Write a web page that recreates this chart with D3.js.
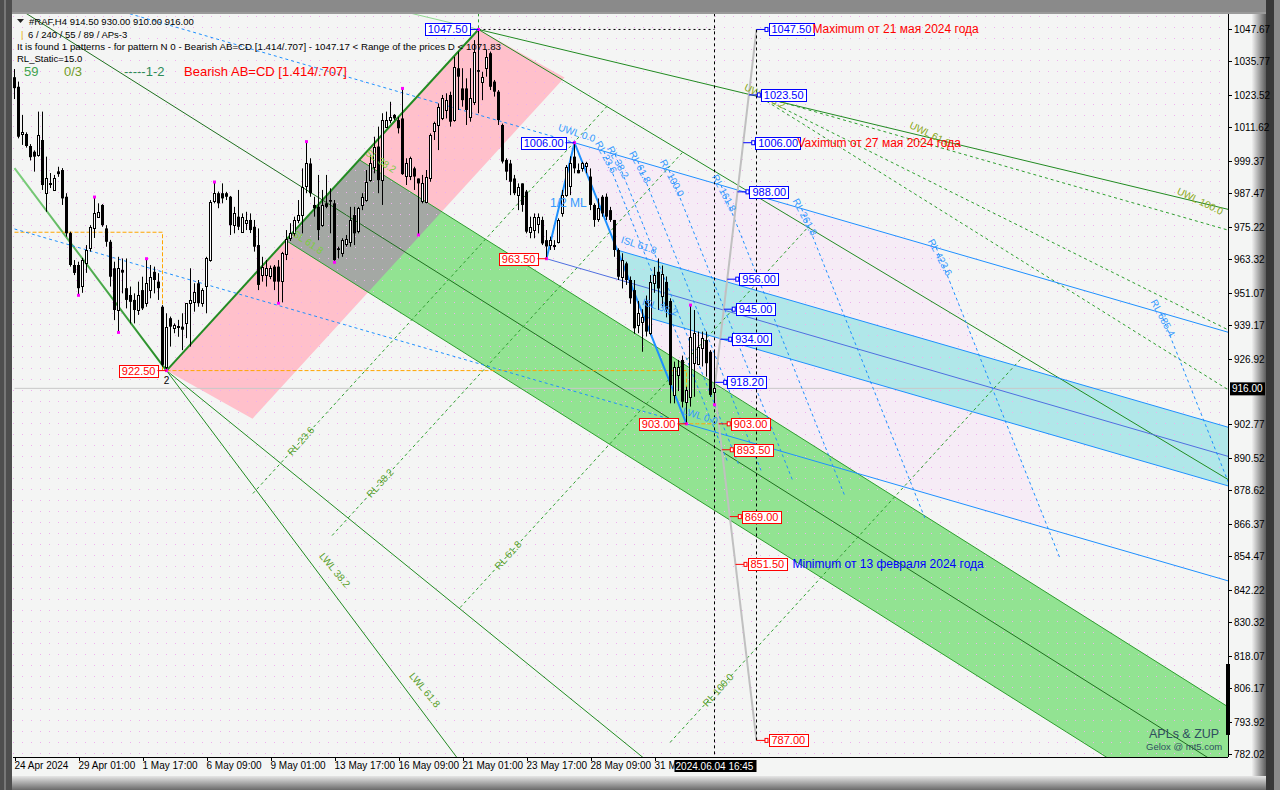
<!DOCTYPE html>
<html><head><meta charset="utf-8">
<script src="https://cdn.jsdelivr.net/npm/d3@7"></script>
<style>body{margin:0;background:#fff}svg{display:block}text{font-family:"Liberation Sans",Arial,sans-serif}</style>
</head><body><svg id="c" width="1280" height="790"></svg>
<script>
// ---------- DATA ----------
// H4 candles [open, high, low, close], bar index 0..175
const candles = [
[1030,1033,1022,1026],[1026.5,1028.4,1007.6,1008.2],[1009.2,1016.2,1005.2,1009.8],[1009.2,1009.8,1004.2,1004.8],
[1004.8,1005.5,999.5,1000.7],[1002.7,1003.2,995.4,1000.9],[1001.5,1017.4,1000.9,1008.8],[1007,1017.4,988.7,990.5],
[987.5,1000.9,980.7,993],[991.1,994.9,989.4,991.3],[988.7,994.2,988.5,993],[995.5,997.2,993.5,994.5],
[996,996.7,983.2,985.6],[986.2,987.5,971.6,972.8],[972.9,973.4,960.6,961.2],[961.2,963,957.5,958.3],
[961.2,962.4,950.1,952.7],[953.3,963.8,951,963],[962,968.5,958.3,966.7],[967.4,975.8,966.1,975.2],
[974.7,986.1,971.1,980.1],[978.9,983.8,978.4,980.7],[983.2,983.5,975.2,975.8],[974.6,975.8,967.9,969.7],
[969.7,970.4,953.3,956.9],[960,962.4,941,944.7],[944.7,964.2,936.5,960],[959.4,963.6,950.8,958.4],
[952.7,963.6,945.3,948.4],[950.2,953.3,939.8,947.7],[948.4,950.8,939.8,944.7],[944.7,955.1,942.9,950.2],
[952,956.9,944.7,945.3],[947.2,963.5,945.9,954.5],[952,961.2,949,956.9],[958.7,960.6,950.8,955.7],
[955.1,958.2,948.4,952.7],[945.9,946.5,923.9,924.6],[923.9,943.5,922.5,938.6],[941.7,942.3,931.3,938.6],
[938,939.8,936.2,939.2],[938.6,941.1,934.9,938.7],[938.6,943.5,930,937.5],[939.8,947.2,934.4,947.2],
[947.2,960,931.3,948.4],[947.7,954.5,944.1,951.4],[954.5,955.7,945.9,947.2],[947.2,952.7,945.9,952],
[953.3,964.2,943.5,963.6],[963,985,962.4,984.4],[984.4,991.6,983.8,987.5],[987.5,988.1,982,983.8],
[987.5,991.1,983.8,985.6],[987.5,988,985,986.2],[986.2,986.5,972.2,975.8],[975.8,982.5,972.8,980.1],
[978.9,988.7,974,975.2],[973.4,980.1,973,978.9],[976.5,980.7,974,977.7],[977.7,980.1,972.9,974],
[975.2,977.7,966.1,967.9],[968.5,974.6,952,953.9],[957.5,964.2,955.1,960.6],[957.5,963,953.3,960],
[957,961,956,960],[960.6,961.2,952,955.1],[960.6,963,947.2,955.1],[955.1,966,947.5,965.5],
[965.5,974,963,970.9],[970.9,976.5,970,972.8],[972.8,978.9,971.6,977.7],[977.7,985,976.5,979.5],
[979.5,996.6,972.8,989.9],[989.9,1006.4,987.5,998.4],[998.4,1000.3,986.2,987.5],[983.2,986.2,978.9,982],
[982.5,994.2,970.3,974],[975.8,988.7,975.2,983.2],[983.8,994.2,982,982.5],[985,989.3,972.8,984.4],
[983.8,985,962.2,963],[967.3,967.9,963.6,966.7],[965.5,971,964.2,970.3],[969.1,972.2,967.9,970.9],
[969.7,982.5,967.9,977.7],[979.5,982.5,968.5,972.8],[973.4,982.5,972.8,982],[983.2,987.5,981.3,986.2],
[985,996,984.4,991.7],[992.3,1001.5,991.7,998.4],[997.2,1008.2,994.8,1004.6],[1004.6,1011.9,987.5,992.3],
[992.3,1016.8,983.2,1014.3],[1011.9,1017.4,1011.9,1014.3],[1014.3,1021,1013.1,1015.5],[1016.2,1016.5,1014.3,1014.9],
[1014.3,1015.5,1009.4,1011.3],[1014.9,1025.9,994.2,994.5],[993.6,1000.3,990.5,998.4],[993.6,1000.9,992.3,1000.3],
[996.6,997.2,988.7,993.6],[992.9,992.9,972.2,991.1],[984.4,994.2,983.8,991.1],[984.4,996,983.8,993.6],
[992.9,1009.4,991.7,1008.8],[1010,1013.7,1007,1013.1],[1012.5,1020.4,1003.3,1019.2],[1015,1023.5,1014.3,1022.3],
[1018,1024.1,1014.9,1021.6],[1023.5,1024.7,1011.9,1013.7],[1014.3,1037.5,1013.7,1033.9],[1033.3,1039.4,1018,1030.2],
[1025.9,1033.3,1019.2,1021.6],[1025.9,1029.6,1012.5,1018],[1015.5,1033.3,1013.7,1022.3],[1021,1043.6,1019.8,1039.4],
[1032.6,1047.5,1016.8,1032],[1028.4,1032,1021.6,1030.2],[1033.3,1040,1030.2,1037.5],[1038.8,1039.4,1025.3,1026.5],
[1028.4,1029,1022.9,1024.7],[1024.7,1025.3,1012.5,1014.3],[1012.5,1013,998.4,999.1],[999.7,1000.3,992.3,995.4],
[998.4,999.7,986.8,991.7],[992.9,994.2,986.8,987.5],[986.8,991.1,981.3,989.9],[991.1,991.1,980.7,983.2],
[988.1,988.7,972.8,973.4],[973.4,978.9,971,975.2],[974,980.1,971,978.9],[976.5,980.1,972.8,978.9],
[977.7,978.9,968.5,969.1],[970.3,974,963.5,968],[968.5,971.6,966.7,970.3],[968.5,970.3,966.7,968.6],
[969.7,978.3,969.1,977.7],[980.1,988.7,978.9,986.8],[986.8,997.8,986.2,997.2],[990,1001,986.8,998.4],
[1000.9,1006,994.8,996.6],[996,998.4,994.8,994.8],[996.6,999,995.4,998.4],[997.2,999,994.8,998.4],
[993.6,996.6,981.3,983.2],[983.2,983.8,975.2,977.7],[977.7,985.6,977,981.9],[986.2,986.8,978.9,980.1],
[986.2,987.4,977.7,978.9],[981.3,982.5,977,977.7],[977.7,977.7,964.2,966.7],[966.7,967.3,955.7,956.9],
[956.9,965.5,952.6,963],[961.8,962.4,953.9,955.7],[955.7,957,947,949],[952,955.7,936,938],
[939.2,948,936.2,943.5],[940,945,929.4,942],[948,950,935,936.8],[936.2,957.5,935.5,955],
[954.5,960.5,951,957.5],[958.7,963.6,944.7,952.6],[950,961,946,958],[955,957,942,944.7],
[948,949,910.5,917.2],[913.6,925.8,910.5,923.9],[920.9,926.4,915,923.9],[926.4,928,909,911.1],
[911.1,916.6,903,915.4],[913,946.5,909.3,934.9],[925.2,944.7,912.9,936.2],[925.2,936.8,924.5,931.3],
[930.7,936.8,924,934.3],[933.7,936.8,920.3,925.2],[929.4,930,912.9,913.6],[914.5,930,910,916]
];
const pivotHighBars = [20,33,50,73,97,116,140,169];
const pivotLowBars  = [16,26,38,66,80,101,133,168,175];
const yTicks = [1047.67,1035.77,1023.52,1011.62,999.37,987.47,975.22,963.32,951.07,939.17,926.92,
                902.77,890.52,878.62,866.37,854.47,842.22,830.32,818.07,806.17,793.92,782.02];
const timeLabels = ["24 Apr 2024","29 Apr 01:00","1 May 17:00","6 May 09:00","9 May 01:00","13 May 17:00",
                    "16 May 09:00","21 May 01:00","23 May 17:00","28 May 09:00","31 M"];
const timeLabelBars = [0,16,32,48,64,80,96,112,128,144,160];
const lastBarLabel = "2024.06.04 16:45";
const lastPrice = 916.00;
// pattern points [bar, price]
const ptA = [38,922.5], ptB = [116,1047.5], ptC = [133,963.5], ptCp = [140,1006], ptD = [168,903];
const leftLegStart = [0,996.7];
const projBar = 185.5;
const projHigh = 1047.5, projLow = 787.0;
const pivotBoxes = [[1047.50,116,"b"],[1006.00,140,"b"],[963.50,133,"r"],[922.50,38,"r"],[903.00,168,"r"]];
const levelBoxes = [[1047.50,"b"],[1023.50,"b"],[1006.00,"b"],[988.00,"b"],[956.00,"b"],[945.00,"b"],
                    [934.00,"b"],[918.20,"b"],[903.00,"r"],[893.50,"r"],[869.00,"r"],[851.50,"r"],[787.00,"r"]];
// fork slopes (price per bar)
const blueForkSlope = -0.425, greenForkSlope = -0.923, uwlSlope = -0.3517, bLineSlope = -0.88, aLineSlope = -1.19;
const uwlFanStart = 1023.5, uwlFanSlopes = [-0.42,-0.73,-0.916];
const islLevels = [0.382, 0.618];
const orangeLeft = 973.2;
// fib labels [text, bar, price]
const blueRL = [["RL 23.6",147.9,1000.8],["RL 38.2",150.9,998.9],["RL 61.8",156.4,997.1],["RL 100.0",164.4,993.1],
                ["RL 161.8",177.4,987.6],["RL 261.8",197.6,978.8],["RL 423.6",231.4,964],["RL 685.4",287.1,941.8]];
const blueSL = [["UWL 0.0",140.6,1009.6],["ISL 61.8",156.1,968.5],["ISL 38.2",161.4,945.8],["LWL 0.0",171.4,905.9]];
const greenRL = [["RL 23.6",71.6,896.7],["RL 38.2",91.4,881.3],["RL 61.8",123.4,854.9],["RL 100.0",175.9,805.5]];
const greenWL = [["LWL 38.2",80.1,849.4],["LWL 61.8",102.6,805.5]];
const greenSL = [["SL 61.8",73.4,969.6],["SL 38.2",91.6,999.3]];
const greenUWL = [["UWL 38.2",187.6,1023.1],["UWL 61.8",228.9,1009.2],["UWL 100.0",296.4,984.6]];

// ---------- LAYOUT ----------
const PL=13, PR=1228, PT=14, PB=757;
const svg = d3.select("#c");
const x = d3.scaleLinear().domain([0,175]).range([14.5,714.5]);
const y = d3.scaleLinear().domain([782.02,1047.67]).range([754,29]);
const defs = svg.append("defs");
const pat = defs.append("pattern").attr("id","dots").attr("width",9).attr("height",11).attr("patternUnits","userSpaceOnUse");
pat.append("rect").attr("x",4).attr("y",5).attr("width",1).attr("height",1).attr("fill","#eeb0ee");
defs.append("clipPath").attr("id","plot").append("rect").attr("x",PL).attr("y",PT).attr("width",PR-PL).attr("height",PB-PT);
const gr = defs.append("linearGradient").attr("id","rg").attr("x1",0).attr("x2",1).attr("y1",0).attr("y2",0);
gr.append("stop").attr("offset",0).attr("stop-color","#f0f0f0");
gr.append("stop").attr("offset",1).attr("stop-color","#5c5c5c");
const gb = defs.append("linearGradient").attr("id","bg").attr("x1",0).attr("x2",0).attr("y1",0).attr("y2",1);
gb.append("stop").attr("offset",0).attr("stop-color","#e6e6e6");
gb.append("stop").attr("offset",1).attr("stop-color","#6a6a6a");
const gl = defs.append("linearGradient").attr("id","lg").attr("x1",0).attr("x2",1).attr("y1",0).attr("y2",1);
gl.append("stop").attr("offset",0).attr("stop-color","#7fd07f");
gl.append("stop").attr("offset",1).attr("stop-color","#228b22");

// frame
svg.append("rect").attr("width",1280).attr("height",790).attr("fill","#8a8a8a");
svg.append("rect").attr("x",0).attr("y",0).attr("width",12).attr("height",790).attr("fill","#4e4e4e");
svg.append("rect").attr("x",4).attr("y",0).attr("width",2).attr("height",790).attr("fill","#777");
svg.append("rect").attr("x",12).attr("y",12).attr("width",1244).attr("height",764).attr("fill","#f4f5f4");
svg.append("rect").attr("x",1252).attr("y",12).attr("width",14).attr("height",778).attr("fill","url(#rg)");
svg.append("rect").attr("x",1266).attr("y",0).attr("width",8).attr("height",790).attr("fill","#383838");
svg.append("rect").attr("x",12).attr("y",776).attr("width",1254).attr("height",14).attr("fill","url(#bg)");
svg.append("rect").attr("x",12).attr("y",12).attr("width",1254).attr("height",2).attr("fill","#9a9a9a");

const P = svg.append("g").attr("clip-path","url(#plot)");
const pt = d => [x(d[0]), y(d[1])];
const along = (p,q,f) => [p[0]+(q[0]-p[0])*f, p[1]+(q[1]-p[1])*f];
const extend = (p,slope,i) => [i, p[1]+slope*(i-p[0])];
// intersection bar of two lines (point+slope)
const meet = (p,s,q,t) => (q[1]-t*q[0] - (p[1]-s*p[0]))/(s-t);
const poly = arr => arr.map(pt).map(d=>d.join(",")).join(" ");
const line = (pts,color,w,dash) => P.append("polyline").attr("points",poly(pts)).attr("fill","none")
   .attr("stroke",color).attr("stroke-width",w||1).attr("stroke-dasharray",dash||null);

const cdSlope = (ptD[1]-ptCp[1])/(ptD[0]-ptCp[0]);
const abSlope = (ptB[1]-ptA[1])/(ptB[0]-ptA[0]);

// pink AB channel
const pinkOff = [21.5,-17.6];
const pinkPoly = [ptA, ptB, [ptB[0]+pinkOff[0],ptB[1]+pinkOff[1]], [ptA[0]+pinkOff[0],ptA[1]+pinkOff[1]]];
P.append("polygon").attr("points",poly(pinkPoly)).attr("fill","#ffc0cb");
defs.append("clipPath").attr("id","pinkclip").append("polygon").attr("points",poly(pinkPoly));
// lavender reaction zone of CD fork
const rlLast = [blueRL[6][1],blueRL[6][2]];
const lavTop = meet(rlLast,cdSlope,ptCp,blueForkSlope), lavBot = meet(rlLast,cdSlope,ptD,blueForkSlope);
P.append("polygon").attr("points",poly([ptCp, extend(ptCp,blueForkSlope,lavTop), extend(ptD,blueForkSlope,lavBot), ptD]))
  .attr("fill","#f6ecf6");
// green ISL band of AB fork
const g382 = along(ptA,ptB,islLevels[0]), g618 = along(ptA,ptB,islLevels[1]);
const greenPoly = [g382, extend(g382,greenForkSlope,320), extend(g618,greenForkSlope,320), g618];
P.append("polygon").attr("points",poly(greenPoly)).attr("fill","#92e392");
P.append("polygon").attr("points",poly(greenPoly)).attr("fill","#a4a8a4").attr("clip-path","url(#pinkclip)");
// cyan ISL band of CD fork
const c382 = along(ptCp,ptD,islLevels[0]), c618 = along(ptCp,ptD,islLevels[1]);
const cyanPoly = [c382, extend(c382,blueForkSlope,320), extend(c618,blueForkSlope,320), c618];
P.append("polygon").attr("points",poly(cyanPoly)).attr("fill","#b0e7e9");
// dotted grid
P.append("rect").attr("x",PL).attr("y",PT).attr("width",PR-PL).attr("height",PB-PT).attr("fill","url(#dots)");
// current price line
line([[0,lastPrice],[320,lastPrice]],"#c8c8c8",1);

// green lines
line([leftLegStart,ptA],"url(#lg)",2);
line([ptA,ptB],"#228b22",2);
line([ptA, extend(ptA,(ptA[1]-leftLegStart[1])/(ptA[0]-leftLegStart[0]),140)],"#228b22",1);
line([ptA, extend(ptA,aLineSlope,190)],"#228b22",1);
const gMid = along(ptA,ptB,0.5);
line([extend(gMid,greenForkSlope,-5), extend(gMid,greenForkSlope,320)],"#1f6f1f",1);
line([g382, extend(g382,greenForkSlope,320)],"#2e9e2e",1);
line([g618, extend(g618,greenForkSlope,320)],"#2e9e2e",1);
line([ptB, extend(ptB,bLineSlope,320)],"#228b22",1);
line([extend(ptB,uwlSlope,96), ptB],"#90d890",1);
line([ptB, extend(ptB,uwlSlope,320)],"#228b22",1);
// green dashed reaction lines (parallel to AB), up to the B fork line
greenRL.forEach(d=>{
  const a=[d[1],d[2]], top = meet(a,abSlope,ptB,bLineSlope);
  line([extend(a,abSlope,d[1]-12), extend(a,abSlope,top)],"#2e9e2e",1,"3,3");
});
// green dashed warning fan
uwlFanSlopes.forEach(s=>line([[projBar,uwlFanStart], extend([projBar,uwlFanStart],s,320)],"#2e9e2e",1,"3,3"));

// orange
line([[0,orangeLeft],[37,orangeLeft],[37,ptA[1]]],"#ffa500",1,"4,2");
line([ptA,[ptD[0],ptA[1]],[ptD[0],ptD[1]],[175,ptD[1]]],"#ffa500",1,"4,2");

// blue fork lines
line([extend(ptCp,blueForkSlope,0), ptCp],"#1e90ff",1,"3,3");
line([ptCp, extend(ptCp,blueForkSlope,320)],"#1e90ff",1);
line([c382, extend(c382,blueForkSlope,320)],"#1e90ff",1);
line([c618, extend(c618,blueForkSlope,320)],"#1e90ff",1);
line([ptC, extend(ptC,blueForkSlope,320)],"#4f6fe0",1);
line([extend(ptD,blueForkSlope,0), ptD],"#1e90ff",1,"3,3");
line([ptD, extend(ptD,blueForkSlope,320)],"#1e90ff",1);
// blue reaction lines (parallel to CD leg) between the outer fork lines
blueRL.forEach(d=>{
  const a=[d[1],d[2]];
  const top = meet(a,cdSlope,ptCp,blueForkSlope), bot = meet(a,cdSlope,ptD,blueForkSlope);
  line([extend(a,cdSlope,top), extend(a,cdSlope,bot+3)],"#1e90ff",1,"3,3");
});
// AB=CD legs
line([ptC,ptCp,ptD],"#1e90ff",2);

// time projection
line([[175,lastPrice],[projBar,projHigh]],"#c0c0c0",2);
line([[175,lastPrice],[projBar,projLow]],"#c0c0c0",2);
line([[175,1060],[175,770]],"#000",1,"3,3");
line([[projBar,projHigh],[projBar,projLow]],"#000",1,"3,3");
line([ptB,[175,projHigh]],"#000",1,"2,3");
line([[ptB[0],1060],ptB],"#2e9e2e",1,"3,3");

// candles
const cg = P.append("g");
candles.forEach((d,i)=>{
  const [o,h,l,c]=d, xi=x(i);
  cg.append("line").attr("x1",xi).attr("x2",xi).attr("y1",y(h)).attr("y2",y(l)).attr("stroke","#000");
  const t=y(Math.max(o,c)), b=y(Math.min(o,c));
  if(c>=o) cg.append("rect").attr("x",xi-1).attr("y",Math.round(t)+0.5).attr("width",2).attr("height",Math.max(1,Math.round(b-t)))
      .attr("fill","#fff").attr("stroke","#000");
  else cg.append("rect").attr("x",xi-1.5).attr("y",t).attr("width",3).attr("height",Math.max(1,b-t)).attr("fill","#000");
});
pivotHighBars.forEach(i=>cg.append("rect").attr("x",x(i)-1.5).attr("y",y(candles[i][1])-1.5).attr("width",3).attr("height",3).attr("fill","#ff00ff"));
pivotLowBars.forEach(i=>cg.append("rect").attr("x",x(i)-1.5).attr("y",y(candles[i][2])-1.5).attr("width",3).attr("height",3).attr("fill","#ff00ff"));

// rotated labels
function rlabel(g,text,i,p,ang,color,size){
  g.append("text").attr("transform",`translate(${x(i)},${y(p)}) rotate(${ang})`).attr("text-anchor","middle")
   .attr("dy","0.35em").attr("font-size",size||10).attr("fill",color).text(text);
}
const LG = P.append("g");
blueRL.forEach(d=>rlabel(LG,d[0],d[1],d[2],62,"#3399ff"));
blueSL.forEach(d=>rlabel(LG,d[0],d[1],d[2],18,"#3399ff"));
greenRL.forEach(d=>rlabel(LG,d[0],d[1],d[2],-48,"#5aa02c"));
greenWL.forEach(d=>rlabel(LG,d[0],d[1],d[2],50,"#5aa02c"));
greenSL.forEach(d=>rlabel(LG,d[0],d[1],d[2],34,"#7ccd3c"));
greenUWL.forEach(d=>rlabel(LG,d[0],d[1],d[2],26,"#8aa820"));
LG.append("text").attr("x",x(133.9)).attr("y",y(982.5)).attr("font-size",12).attr("fill","#3399ff").text("1/2 ML");
LG.append("text").attr("x",x(ptA[0])).attr("y",y(ptA[1])+13).attr("text-anchor","middle").attr("font-size",10).attr("fill","#000").text("2");

// price boxes
const col = c => c==="b" ? "#0000ff" : "#ff0000";
const BX = svg.append("g");
function box(px,py,text,c,anchorRight){
  const t = BX.append("text").attr("font-size",11).attr("fill",col(c)).text(text);
  const w = t.node().getComputedTextLength()+5;
  const bx = anchorRight ? px-w : px;
  BX.insert("rect","text").attr("x",Math.round(bx)+0.5).attr("y",Math.round(py-6)+0.5).attr("width",Math.round(w)).attr("height",12)
    .attr("fill","#fff").attr("stroke",col(c));
  t.attr("x",bx+3).attr("y",py+4);
}
pivotBoxes.forEach(d=>{
  const [px,py]=[x(d[1]),y(d[0])];
  BX.append("line").attr("x1",px-9).attr("x2",px).attr("y1",py).attr("y2",py).attr("stroke",col(d[2]));
  box(px-9,py,d[0].toFixed(2),d[2],true);
});
levelBoxes.forEach(d=>{
  const p=d[0], end = p>=lastPrice?projHigh:projLow;
  const bi = 175+(projBar-175)*(p-lastPrice)/(end-lastPrice);
  const px=x(bi), py=y(p);
  BX.append("line").attr("x1",px).attr("x2",px+9).attr("y1",py).attr("y2",py).attr("stroke",col(d[1]));
  BX.append("rect").attr("x",px+8.5).attr("y",py-2).attr("width",3).attr("height",4).attr("fill","#fff").attr("stroke",col(d[1]));
  box(px+12,py,p.toFixed(2),d[1],false);
});
// annotations
const ann = svg.append("g").attr("font-size",12);
ann.append("text").attr("x",x(projBar)+56).attr("y",y(1047.5)+4).attr("fill","#ff0000").text("Maximum от 21 мая 2024 года");
ann.append("text").attr("x",x(projBar)+41).attr("y",y(1006)+4).attr("fill","#ff0000").text("Vaximum от 27 мая 2024 года");
ann.append("text").attr("x",x(projBar)+36).attr("y",y(851.5)+4).attr("fill","#0000ff").text("Minimum от 13 февраля 2024 года");

// header
const hd = svg.append("g").attr("font-size",9.5).attr("fill","#000").style("white-space","pre");
hd.append("path").attr("d","M17,19 L24,19 L20.5,23 Z").attr("fill","#222");
hd.append("text").attr("x",29).attr("y",25).text("#RAF,H4  914.50 930.00 910.00 916.00");
hd.append("text").attr("x",21).attr("y",38).attr("fill","#e8b000").text("|");
hd.append("text").attr("x",28).attr("y",38).text("6 / 240 / 55 / 89 / APs-3");
hd.append("text").attr("x",17).attr("y",50).attr("textLength",484).attr("lengthAdjust","spacingAndGlyphs")
  .text("It is found 1 patterns  -  for pattern N 0 - Bearish AB=CD [1.414/.707] - 1047.17 < Range of the prices D < 1071.83");
hd.append("text").attr("x",17).attr("y",62).text("RL_Static=15.0");
hd.append("text").attr("x",24).attr("y",76).attr("font-size",13).attr("fill","#3fa34d").text("59");
hd.append("text").attr("x",64).attr("y",76).attr("font-size",13).attr("fill","#6f9a1f").text("0/3");
hd.append("text").attr("x",124).attr("y",76).attr("font-size",13).attr("fill","#2e8b57").text("-----1-2");
hd.append("text").attr("x",184).attr("y",76).attr("font-size",13).attr("fill","#ff0000").text("Bearish AB=CD [1.414/.707]");

// signature
svg.append("text").attr("x",1149).attr("y",738).attr("font-family","Liberation Serif,serif").attr("font-size",12.5).attr("fill","#2f4f5f").text("APLs & ZUP");
svg.append("text").attr("x",1146).attr("y",750).attr("font-family","Liberation Serif,serif").attr("font-size",9.5).attr("fill","#2f4f5f").text("Gelox @ mt5.com");

// axes
const ax = svg.append("g");
ax.append("line").attr("x1",PR+0.5).attr("x2",PR+0.5).attr("y1",PT).attr("y2",PB).attr("stroke","#000");
ax.append("line").attr("x1",PL).attr("x2",PR).attr("y1",PB+0.5).attr("y2",PB+0.5).attr("stroke","#000");
ax.append("rect").attr("x",PR-2).attr("y",y(815)).attr("width",4).attr("height",y(789)-y(815)).attr("fill","#000");
yTicks.forEach(v=>{
  ax.append("line").attr("x1",PR).attr("x2",PR+4).attr("y1",Math.round(y(v))+0.5).attr("y2",Math.round(y(v))+0.5).attr("stroke","#000");
  ax.append("text").attr("x",PR+6).attr("y",y(v)+4).attr("font-size",10).attr("fill","#000").text(v.toFixed(2));
});
const lp = y(lastPrice);
ax.append("rect").attr("x",PR+2).attr("y",lp-6).attr("width",35).attr("height",13).attr("fill","#000");
ax.append("text").attr("x",PR+4).attr("y",lp+4).attr("font-size",10).attr("fill","#fff").text(lastPrice.toFixed(2));
timeLabelBars.forEach((b,k)=>{
  ax.append("line").attr("x1",Math.round(x(b))+0.5).attr("x2",Math.round(x(b))+0.5).attr("y1",PB).attr("y2",PB+4).attr("stroke","#000");
  ax.append("text").attr("x",Math.max(14,x(b))).attr("y",769).attr("font-size",10).attr("fill","#000").text(timeLabels[k]);
});
const lx = x(175);
ax.append("rect").attr("x",lx-40).attr("y",760).attr("width",82).attr("height",12).attr("fill","#000");
ax.append("text").attr("x",lx).attr("y",769.5).attr("text-anchor","middle").attr("font-size",10).attr("fill","#fff").text(lastBarLabel);
</script></body></html>
